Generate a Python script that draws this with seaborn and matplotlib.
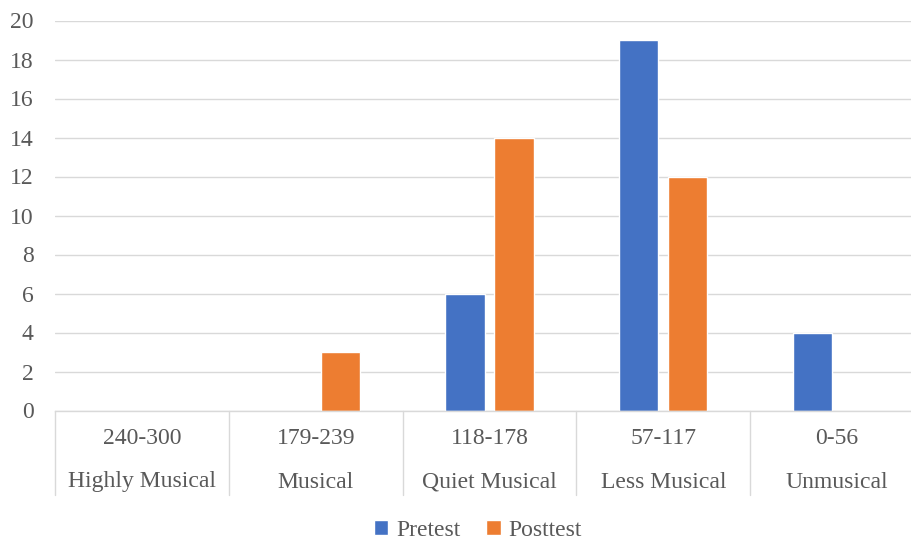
import matplotlib
matplotlib.use("Agg")
import matplotlib.pyplot as plt
import matplotlib.transforms as mtransforms
import seaborn as sns
import pandas as pd

# Score bands and their musicality labels
score_ranges = ["240-300", "179-239", "118-178", "57-117", "0-56"]
band_names = ["Highly Musical", "Musical", "Quiet Musical", "Less Musical", "Unmusical"]

# Number of students per band
pretest = [0, 0, 6, 19, 4]
posttest = [0, 3, 14, 12, 0]

series_names = ["Pretest", "Posttest"]
colors = ["#4472C4", "#ED7D31"]
text_color = "#595959"
grid_color = "#D9D9D9"
font_size = 17

rows = []
for name, values in zip(series_names, [pretest, posttest]):
    for band, v in zip(score_ranges, values):
        rows.append({"band": band, "series": name, "count": v})
df = pd.DataFrame(rows)

sns.set_theme(style="white")
plt.rcParams["font.family"] = ["Liberation Serif", "DejaVu Serif"]

W, H = 912, 539
fig = plt.figure(figsize=(W / 100, H / 100), dpi=100)
left, right, top, bottom = 55, 924, 20.5, 410.5
ax = fig.add_axes([left / W, 1 - bottom / H, (right - left) / W, (bottom - top) / H])

sns.barplot(data=df, x="band", y="count", hue="series", order=score_ranges,
            hue_order=series_names, palette=colors, width=0.563, gap=0.2,
            saturation=1, ax=ax, legend=True)

ax.set_xlim(-0.5, len(score_ranges) - 0.5)
ax.set_ylim(0, 20)
ax.set_yticks(range(0, 21, 2))
ax.yaxis.grid(True, color=grid_color, linewidth=1.0)
ax.set_axisbelow(True)
ax.set_xlabel("")
ax.set_ylabel("")
for s in ["left", "top", "right"]:
    ax.spines[s].set_visible(False)
ax.spines["bottom"].set_color(grid_color)
ax.spines["bottom"].set_linewidth(1.0)

ax.tick_params(axis="y", length=0, pad=15.5, labelsize=font_size, labelcolor=text_color)
ax.tick_params(axis="x", length=0, labelbottom=False)

# Two-level category axis: score range above the band name, with separators
trans = mtransforms.blended_transform_factory(ax.transData, ax.transAxes)
axis_h = bottom - top
for i, (rng, name) in enumerate(zip(score_ranges, band_names)):
    ax.text(i, -(439 - bottom) / axis_h, rng, transform=trans, ha="center",
            va="center", fontsize=font_size, color=text_color)
    ax.text(i, -(482 - bottom) / axis_h, name, transform=trans, ha="center",
            va="center", fontsize=font_size, color=text_color)
for x in [i - 0.5 for i in range(len(score_ranges) + 1)]:
    ax.plot([x, x], [0, -(495 - bottom) / axis_h], transform=trans,
            color=grid_color, linewidth=1.0, clip_on=False)

leg = ax.legend(loc="center", bbox_to_anchor=(478 / W, 1 - 530 / H),
                bbox_transform=fig.transFigure, ncol=2, frameon=False,
                fontsize=font_size, handlelength=0.6, handleheight=0.6,
                handletextpad=0.35, columnspacing=1.1)
for txt in leg.get_texts():
    txt.set_color(text_color)

fig.savefig("out.png", dpi=100)
